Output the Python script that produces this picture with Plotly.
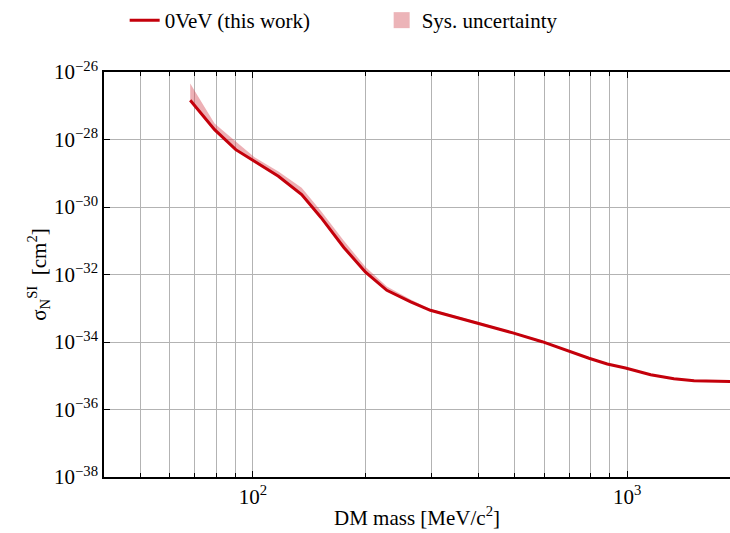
import plotly.graph_objects as go

# DM mass [MeV/c^2]
mass = [68, 79, 90, 101, 117, 135, 152, 175, 200, 228, 264, 298, 398, 495, 593,
        692, 791, 885, 990, 1156, 1334, 1510, 2000]
# 0VeV limit [cm^2]
limit = [1.45e-27, 1.95e-28, 5.0e-29, 2.24e-29, 8.1e-30, 2.34e-30, 4.9e-31, 6.3e-32,
         1.17e-32, 3.4e-33, 1.55e-33, 8.7e-34, 3.7e-34, 1.86e-34, 1.02e-34, 5.5e-35,
         3.3e-35, 2.24e-35, 1.7e-35, 1.07e-35, 8.1e-36, 7.1e-36, 6.7e-36]
# systematic uncertainty upper edge [cm^2]
upper = [4.6e-27, 3.0e-28, 8.7e-29, 3.0e-29, 1.12e-29, 3.7e-30, 7.6e-31, 1.0e-31,
         1.66e-32, 4.4e-33, 1.82e-33, 9.5e-34, 4.0e-34, 2.0e-34, 1.1e-34, 5.9e-35,
         3.5e-35, 2.35e-35, 1.74e-35, 1.1e-35, 8.3e-36, 7.2e-36, 6.8e-36]

x_major = [100, 1000]
x_major_text = ["10<sup>2</sup>", "10<sup>3</sup>"]
x_minor = [50, 60, 70, 80, 90, 200, 300, 400, 500, 600, 700, 800, 900]
y_ticks = [1e-38, 1e-36, 1e-34, 1e-32, 1e-30, 1e-28, 1e-26]
y_text = ["10<sup>−38</sup>", "10<sup>−36</sup>", "10<sup>−34</sup>", "10<sup>−32</sup>",
          "10<sup>−30</sup>", "10<sup>−28</sup>", "10<sup>−26</sup>"]

RED = "#c4000b"
BAND = "rgba(214,80,90,0.45)"
BAND_SOLID = "#ecb4b8"
FONT = "Liberation Serif"
FS = 21

fig = go.Figure()
fig.add_trace(go.Scatter(x=mass, y=limit, mode="lines", line=dict(width=0, color=BAND),
                         showlegend=False, hoverinfo="skip"))
fig.add_trace(go.Scatter(x=mass, y=upper, mode="lines", line=dict(width=0, color=BAND),
                         fill="tonexty", fillcolor=BAND, showlegend=False,
                         name="Sys. uncertainty"))
fig.add_trace(go.Scatter(x=[None], y=[None], mode="markers",
                         marker=dict(symbol="square", size=22, color=BAND_SOLID),
                         name="Sys. uncertainty"))
fig.add_trace(go.Scatter(x=mass, y=limit, mode="lines", line=dict(width=3, color=RED),
                         name="0VeV (this work)"))

fig.update_layout(
    width=730, height=533,
    margin=dict(l=104, r=0, t=70, b=56),
    paper_bgcolor="white", plot_bgcolor="white",
    font=dict(family=FONT, size=FS, color="black"),
    legend=dict(orientation="h", x=0.033, xanchor="left", y=1.128, yanchor="middle",
                traceorder="reversed", font=dict(size=FS), itemwidth=30,
                entrywidth=212, entrywidthmode="pixels",
                bgcolor="rgba(0,0,0,0)"),
)
fig.update_xaxes(
    type="log", range=[1.6021, 3.275],
    tickmode="array", tickvals=x_major, ticktext=x_major_text,
    ticks="inside", ticklen=6, tickwidth=1, tickcolor="black",
    showline=True, linecolor="black", linewidth=1.5, mirror="allticks",
    showgrid=True, gridcolor="#b3b3b3", gridwidth=1,
    minor=dict(tickmode="array", tickvals=x_minor, ticks="inside", ticklen=4,
               tickcolor="black", showgrid=True, gridcolor="#b3b3b3", gridwidth=1),
    title=dict(text="DM mass [MeV/c<sup>2</sup>]", font=dict(size=FS), standoff=2),
    tickfont=dict(size=FS), zeroline=False,
)
fig.update_yaxes(
    type="log", range=[-38, -26],
    tickmode="array", tickvals=y_ticks, ticktext=y_text,
    ticks="inside", ticklen=6, tickwidth=1, tickcolor="black",
    showline=True, linecolor="black", linewidth=1.5, mirror=False,
    showgrid=True, gridcolor="#b3b3b3", gridwidth=1,
    title=dict(text="σ<sub>N</sub><sup>SI</sup>  [cm<sup>2</sup>]", font=dict(size=FS), standoff=2),
    tickfont=dict(size=FS), zeroline=False,
)

fig.write_html("out.html", config={"displayModeBar": False},
               post_script="document.body.style.margin='0';document.body.style.overflow='hidden';")
